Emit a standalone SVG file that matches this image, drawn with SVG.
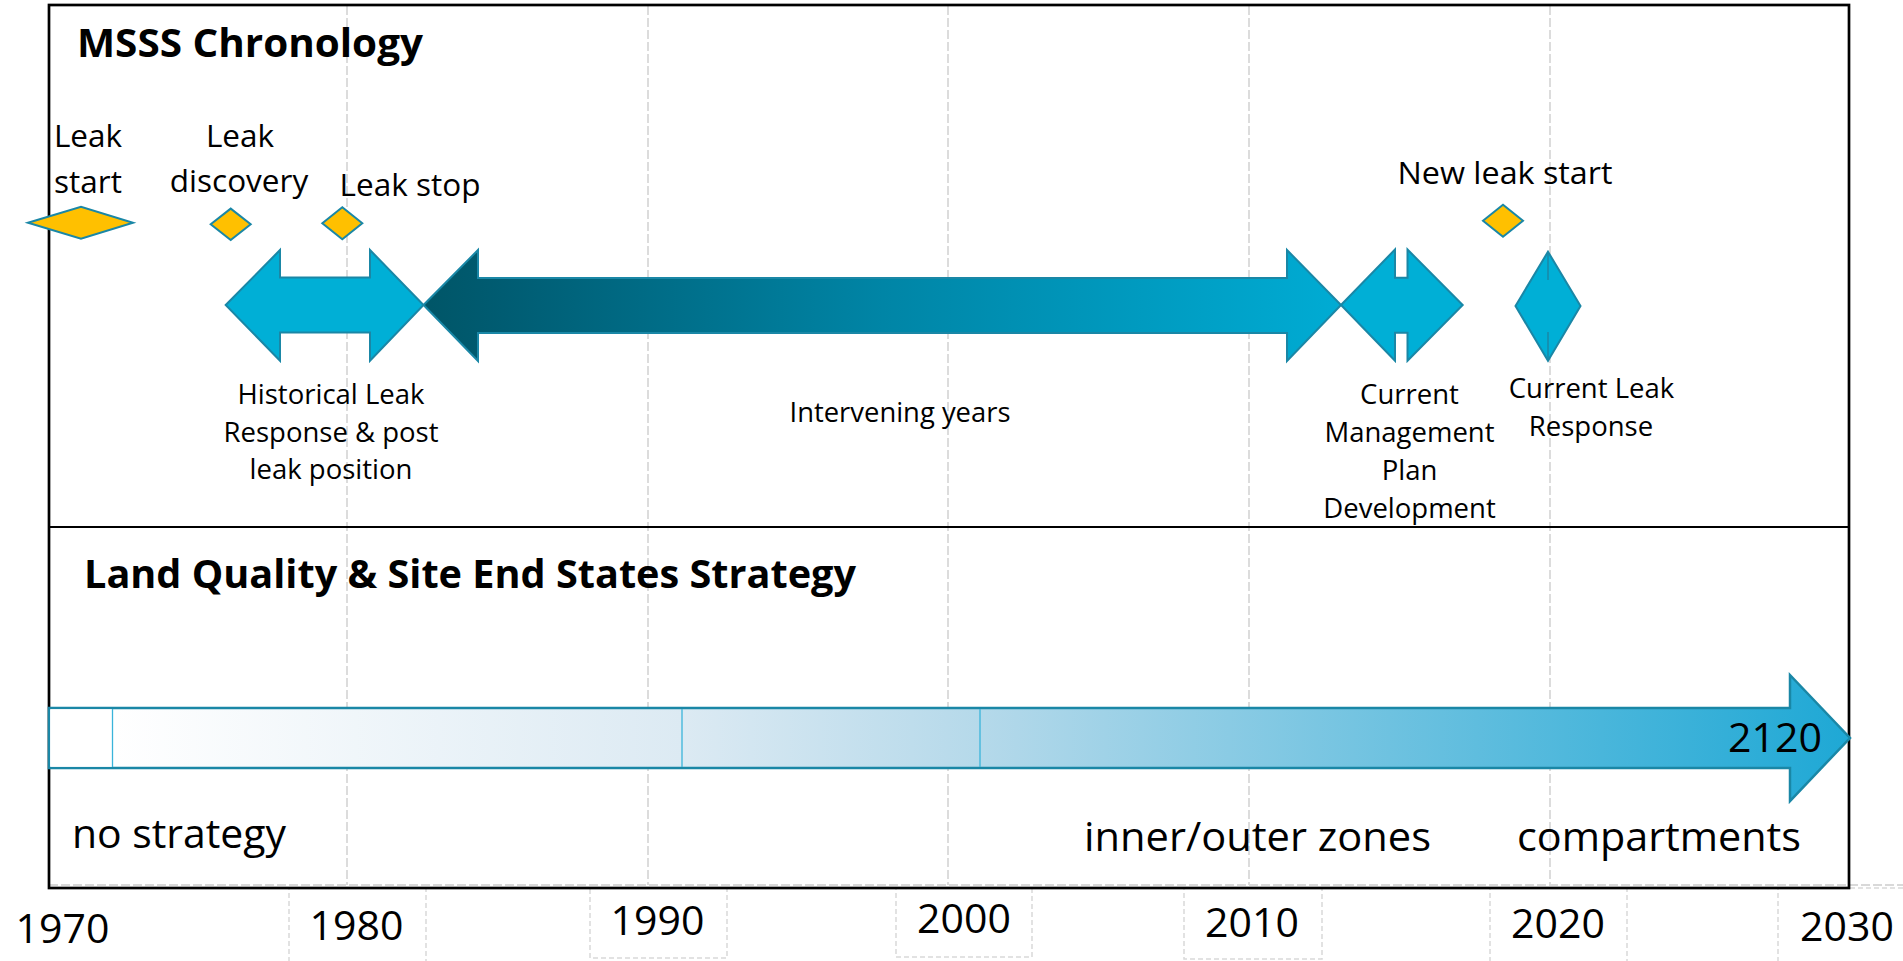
<svg xmlns="http://www.w3.org/2000/svg" width="1903" height="961" viewBox="0 0 1903 961">
<defs>
<style>
.grid{stroke:#d9d9d9;stroke-width:1.8;stroke-dasharray:9 3;fill:none}
.box{stroke:#d9d9d9;stroke-width:1.5;stroke-dasharray:5 3;fill:none}
.frame{stroke:#000;stroke-width:2.7;fill:none}
.t{font-family:"Open Sans","Noto Sans","DejaVu Sans",sans-serif;fill:#000}
.b{font-family:"Open Sans","Noto Sans","DejaVu Sans",sans-serif;font-weight:bold;fill:#000}
.lbl{font-size:27.5px;text-anchor:middle}
.top{font-size:31.5px;text-anchor:middle}
.yr{font-size:41px;text-anchor:middle}
.big{font-size:40px}
.yel{fill:#ffc000;stroke:#1a87a6;stroke-width:2}
.cy{fill:#00afd6;stroke:#1a87a6;stroke-width:2}
</style>
<linearGradient id="gDark" gradientUnits="userSpaceOnUse" x1="430" y1="0" x2="1335" y2="0">
<stop offset="0" stop-color="#005668"/>
<stop offset="0.08" stop-color="#005c72"/>
<stop offset="0.5" stop-color="#0085a6"/>
<stop offset="1" stop-color="#00abd3"/>
</linearGradient>
<linearGradient id="gStrat" gradientUnits="userSpaceOnUse" x1="112" y1="0" x2="1850" y2="0">
<stop offset="0" stop-color="#ffffff"/>
<stop offset="0.328" stop-color="#dceaf3"/>
<stop offset="0.5" stop-color="#b5d9ea"/>
<stop offset="1" stop-color="#1ea8d5"/>
</linearGradient>
</defs>
<rect x="0" y="0" width="1903" height="961" fill="#ffffff"/>

<g id="gridlines">
<line class="grid" x1="347" y1="6" x2="347" y2="885"/>
<line class="grid" x1="648" y1="6" x2="648" y2="885"/>
<line class="grid" x1="948" y1="6" x2="948" y2="885"/>
<line class="grid" x1="1249" y1="6" x2="1249" y2="885"/>
<line class="grid" x1="1550" y1="6" x2="1550" y2="885"/>
<line class="grid" x1="49" y1="885" x2="1903" y2="885"/>
</g>

<g id="axis-boxes">
<rect class="box" x="289" y="888" width="137" height="80"/>
<rect class="box" x="590" y="888" width="137" height="70"/>
<rect class="box" x="896" y="888" width="136" height="69"/>
<rect class="box" x="1184" y="888" width="138" height="71"/>
<rect class="box" x="1490" y="888" width="137" height="80"/>
<rect class="box" x="1778" y="888" width="137" height="80"/>
</g>

<g id="frame">
<rect class="frame" x="49" y="5" width="1800" height="883"/>
<line x1="49" y1="527" x2="1849" y2="527" stroke="#000" stroke-width="2.2"/>
</g>

<g id="titles">
<text class="b" x="77" y="57" font-size="40" textLength="346" lengthAdjust="spacingAndGlyphs">MSSS Chronology</text>
<text class="b" x="84" y="588" font-size="40" textLength="772" lengthAdjust="spacingAndGlyphs">Land Quality &amp; Site End States Strategy</text>
</g>

<g id="leak-start">
<polygon class="yel" points="28,222.7 81,206.7 133,222.7 81,238.7"/>
<text class="t top" x="88" y="147">Leak</text>
<text class="t top" x="88" y="193">start</text>
</g>

<g id="leak-discovery">
<polygon class="yel" points="210.7,224.3 230.7,208.6 250.7,224.3 230.7,240"/>
<text class="t top" x="240" y="147">Leak</text>
<text class="t top" x="239" y="192">discovery</text>
</g>

<g id="leak-stop">
<polygon class="yel" points="322.3,223.3 342.3,207.3 362.3,223.3 342.3,239.3"/>
<text class="t top" x="410" y="196">Leak stop</text>
</g>

<g id="new-leak-start">
<polygon class="yel" points="1483,220.7 1503,204.7 1523,220.7 1503,236.7"/>
<text class="t top" x="1505" y="184" textLength="215" lengthAdjust="spacingAndGlyphs">New leak start</text>
</g>

<g id="historical">
<path class="cy" d="M225.7,305 L280,250 V277.5 H370 V250 L423.5,305 L370,360.7 V332.5 H280 V360.7 Z"/>
<text class="t lbl" x="331" y="404">Historical Leak</text>
<text class="t lbl" x="331" y="442">Response &amp; post</text>
<text class="t lbl" x="331" y="479">leak position</text>
</g>

<g id="intervening">
<path d="M423.5,305 L478,250 V278 H1287 V250 L1341,305 L1287,361 V333 H478 V361 Z" fill="url(#gDark)" stroke="#1a87a6" stroke-width="2"/>
<text class="t lbl" x="900" y="421.5" textLength="221" lengthAdjust="spacingAndGlyphs">Intervening years</text>
</g>

<g id="current-management">
<path class="cy" d="M1341,305 L1395,249.5 V277.7 H1407.5 V249.5 L1462.7,305 L1407.5,360.7 V332.7 H1395 V360.7 Z"/>
<text class="t lbl" x="1409.5" y="403.5">Current</text>
<text class="t lbl" x="1409.5" y="441.5">Management</text>
<text class="t lbl" x="1409.5" y="480">Plan</text>
<text class="t lbl" x="1409.5" y="518">Development</text>
</g>

<g id="current-leak-response">
<polygon class="cy" points="1548,251.7 1580.5,306 1548,360.7 1515.5,306"/>
<line x1="1548" y1="253" x2="1548" y2="280" stroke="#1a87a6" stroke-width="1.5"/>
<line x1="1548" y1="332" x2="1548" y2="359" stroke="#1a87a6" stroke-width="1.5"/>
<text class="t lbl" x="1591.5" y="397.5">Current Leak</text>
<text class="t lbl" x="1591" y="436">Response</text>
</g>

<g id="strategy-arrow">
<path d="M49,708 H1790 V675 L1850,738 L1790,801 V768 H49 Z" fill="url(#gStrat)" stroke="#1a87a6" stroke-width="2.5"/>
<rect x="50.3" y="709.3" width="62" height="57.4" fill="#ffffff"/>
<line x1="112.5" y1="709" x2="112.5" y2="767" stroke="#3ab4da" stroke-width="1.3"/>
<line x1="682" y1="709" x2="682" y2="767" stroke="#3ab4da" stroke-width="1.3"/>
<line x1="980" y1="709" x2="980" y2="767" stroke="#3ab4da" stroke-width="1.3"/>
<text class="t big" x="1775" y="752" text-anchor="middle" textLength="94" lengthAdjust="spacingAndGlyphs">2120</text>
</g>

<g id="strategy-labels">
<text class="t big" x="72" y="848" textLength="214" lengthAdjust="spacingAndGlyphs">no strategy</text>
<text class="t big" x="1084" y="851" textLength="347" lengthAdjust="spacingAndGlyphs">inner/outer zones</text>
<text class="t big" x="1517" y="851" textLength="284" lengthAdjust="spacingAndGlyphs">compartments</text>
</g>

<g id="years">
<text class="t yr" x="62.5" y="943">1970</text>
<text class="t yr" x="356.5" y="940">1980</text>
<text class="t yr" x="657.5" y="935">1990</text>
<text class="t yr" x="964" y="933">2000</text>
<text class="t yr" x="1252" y="937">2010</text>
<text class="t yr" x="1558" y="938">2020</text>
<text class="t yr" x="1847" y="941">2030</text>
</g>
</svg>
